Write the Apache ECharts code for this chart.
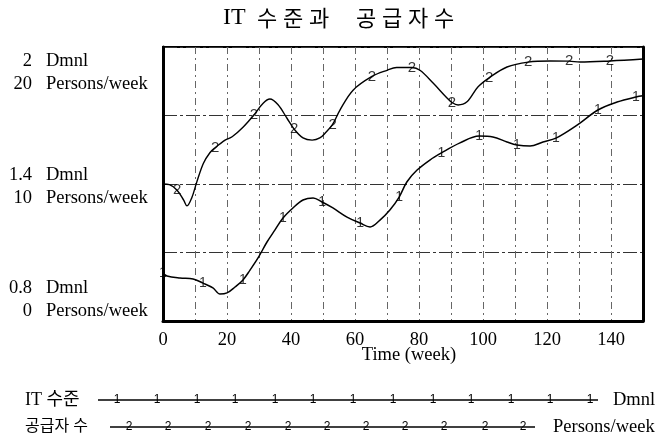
<!DOCTYPE html>
<html>
<head>
<meta charset="utf-8">
<script src="https://cdn.jsdelivr.net/npm/echarts@6/dist/echarts.min.js"></script>
<style>
  html, body { margin: 0; padding: 0; background: #fff; }
  #chart { width: 658px; height: 435px; }
</style>
</head>
<body>
<div id="chart"></div>
<script>
// IT 수준 (Dmnl) over time
const itWeeks = [0, 1.25, 5.3, 9.4, 12.5, 15.6, 17.8, 20, 22.5, 25, 27.2, 29.7, 32.5, 35, 37.5, 40.6, 43.75, 46.9, 49.7, 53.1, 57.5, 61.6, 64.7, 67.8, 70.9, 73.8, 76.25, 79.4, 83.4, 87, 92.8, 98.8, 103.1, 107.5, 110.6, 114.7, 118.75, 122.8, 129.4, 135.9, 141.9, 147.8, 150];
const itLevel = [1.010, 0.997, 0.988, 0.984, 0.966, 0.945, 0.918, 0.923, 0.949, 0.980, 1.023, 1.076, 1.146, 1.199, 1.251, 1.295, 1.330, 1.339, 1.321, 1.295, 1.255, 1.229, 1.212, 1.242, 1.286, 1.343, 1.41, 1.461, 1.505, 1.536, 1.580, 1.610, 1.606, 1.584, 1.571, 1.566, 1.584, 1.601, 1.658, 1.724, 1.759, 1.781, 1.786];
const itMarkerWeeks = [0, 12.5, 25, 37.5, 49.7, 61.6, 73.8, 87, 98.8, 110.6, 122.8, 135.9, 147.8];

// 공급자 수 (Persons/week) over time
const supWeeks = [0, 2, 4.4, 6.5, 7.5, 9, 10.5, 12.6, 14.7, 16.3, 19.4, 21.6, 25, 28.4, 31.3, 33.4, 35.9, 38.75, 41, 43.75, 46.6, 49, 51, 53, 55.3, 59.4, 65.3, 70, 73, 77.8, 80.3, 84.4, 88.75, 90.3, 92.2, 95, 98.4, 101.9, 107.5, 114.1, 121, 126.9, 130.3, 139.7, 150];
const supCount = [10.0, 9.95, 9.55, 8.8, 8.4, 9.0, 10.1, 11.5, 12.3, 12.65, 13.2, 13.45, 14.15, 15.04, 15.9, 16.2, 15.8, 14.8, 14.0, 13.36, 13.2, 13.36, 13.8, 14.35, 15.4, 16.85, 17.85, 18.3, 18.5, 18.5, 18.3, 17.37, 16.28, 15.95, 15.77, 16.0, 17.08, 17.75, 18.54, 18.9, 18.98, 18.97, 18.9, 18.98, 19.12];
const supMarkerWeeks = [4.4, 16.3, 28.4, 41, 53, 65.3, 77.8, 90.3, 101.9, 114.1, 126.9, 139.7];

// Tick labels
const xTickLabels = ['0', '20', '40', '60', '80', '100', '120', '140'];
const dmnlTickLabels = ['0.8', '1.4', '2'];
const personsTickLabels = ['0', '10', '20'];

const SERIF = '"Liberation Serif", "Times New Roman", "Noto Sans CJK KR", serif';
const SANS = '"Liberation Sans", Arial, sans-serif';
const KR = '"Noto Sans CJK KR", sans-serif';

const pairs = (xs, ys) => xs.map((x, i) => [x, ys[i]]);
const pick = (xs, ys, marks) => marks.map(m => [m, ys[xs.indexOf(m)]]);

const itData = pairs(itWeeks, itLevel);
const supData = pairs(supWeeks, supCount);
const itMarks = pick(itWeeks, itLevel, itMarkerWeeks);
const supMarks = pick(supWeeks, supCount, supMarkerWeeks);

// bottom legend: a key line with repeated series digits
const legend1X = [117, 157, 197, 235, 275, 313, 353, 393, 433, 471, 511, 550, 590];
const legend2X = [129, 168, 208, 248, 288, 327, 366, 405, 444, 485, 523];

function legendRow(y, label, labelFont, x1, x2, markXs, digit, unit, unitX) {
  const els = [
    { type: 'text', style: { text: label, x: 25, y: y, font: labelFont, fill: '#000', verticalAlign: 'middle' } },
    { type: 'line', shape: { x1: x1, y1: y, x2: x2, y2: y }, style: { stroke: '#000', lineWidth: 1.3 } },
    { type: 'text', style: { text: unit, x: unitX, y: y, font: '18.5px ' + SERIF, fill: '#000', verticalAlign: 'middle' } }
  ];
  markXs.forEach(x => els.push({
    type: 'text', z: 10,
    style: { text: digit, x: x, y: y, font: '12px ' + SANS, fill: '#000', align: 'center', verticalAlign: 'middle' }
  }));
  return els;
}

// two-line y labels: value column (right aligned) and unit column (left aligned);
// spacer lines keep the end labels inside the plot's height
const labelRich = {
  t: { fontSize: 18.5, fontFamily: SERIF, lineHeight: 23, color: '#000' },
  et: { fontSize: 10, lineHeight: 26 },
  em: { fontSize: 2, lineHeight: 6 },
  eb: { fontSize: 10, lineHeight: 21.5 }
};
function stackLabel(i, top, bottom) {
  let s = '{t|' + top + '}\n{t|' + bottom + '}';
  if (i === 2) s = '{et| }\n{et| }\n' + s;
  if (i === 1) s = '{em| }\n' + s;
  if (i === 0) s = s + '\n{eb| }\n{eb| }';
  return s;
}

const chart = echarts.init(document.getElementById('chart'), null, { renderer: 'canvas' });

chart.setOption({
  animation: false,
  backgroundColor: '#fff',
  title: {
    text: '{a|IT }{k|수}{k|준}{k|과}{g| }{k|공}{k|급}{k|자}{k|수}',
    left: 223, top: 4, padding: 0,
    textStyle: {
      fontWeight: 'normal',
      rich: {
        a: { fontFamily: SERIF, fontSize: 24, fontWeight: 'normal', width: 31, lineHeight: 28, color: '#000' },
        k: { fontFamily: KR, fontSize: 22, fontWeight: 'normal', width: 26, align: 'center', lineHeight: 28, color: '#000' },
        g: { fontSize: 10, width: 21, lineHeight: 28 }
      }
    }
  },
  grid: { left: 163, right: 15, top: 47, bottom: 114, show: true, borderColor: '#000', borderWidth: 2 },
  xAxis: {
    type: 'value', min: 0, max: 150, interval: 10,
    axisLine: { lineStyle: { color: '#000', width: 3 } },
    axisTick: { show: false },
    axisLabel: {
      margin: 10, color: '#000', fontFamily: SERIF, fontSize: 18.5,
      formatter: v => (v % 20 === 0 && xTickLabels[v / 20] !== undefined) ? xTickLabels[v / 20] : ''
    },
    splitLine: { show: true, lineStyle: { color: '#666', width: 1, type: [7, 4, 2, 4] } },
    name: 'Time (week)', nameLocation: 'middle', nameGap: 25, nameMoveOverlap: false,
    nameTextStyle: { color: '#000', fontFamily: SERIF, fontSize: 18.5, padding: [0, 0, 0, 12] }
  },
  yAxis: [
    {
      // Persons/week scale, carries the value column of the labels
      type: 'value', min: 0, max: 20, interval: 5,
      axisLine: { show: true, lineStyle: { color: '#000', width: 3 } },
      axisTick: { show: false },
      splitLine: { show: true, lineStyle: { color: '#333', width: 1, type: [14, 3, 3, 3] } },
      axisLabel: {
        margin: 131, align: 'right',
        formatter: v => v % 10 === 0 ? stackLabel(v / 10, dmnlTickLabels[v / 10], personsTickLabels[v / 10]) : '',
        rich: labelRich
      }
    },
    {
      // Dmnl scale for IT 수준
      type: 'value', min: 0.8, max: 2, position: 'right',
      axisLine: { show: true, lineStyle: { color: '#000', width: 3 } },
      axisTick: { show: false }, axisLabel: { show: false }, splitLine: { show: false }
    },
    {
      // unit column of the labels
      type: 'value', min: 0, max: 20, interval: 5, position: 'left',
      axisLine: { show: false }, axisTick: { show: false }, splitLine: { show: false },
      axisLabel: {
        margin: 117, align: 'left',
        formatter: v => v % 10 === 0 ? stackLabel(v / 10, 'Dmnl', 'Persons/week') : '',
        rich: labelRich
      }
    }
  ],
  series: [
    {
      name: 'IT 수준', type: 'line', yAxisIndex: 1, data: itData,
      smooth: 0.35, showSymbol: false, lineStyle: { color: '#000', width: 1.5 }, z: 3
    },
    {
      name: '공급자 수', type: 'line', yAxisIndex: 0, data: supData,
      smooth: 0.35, showSymbol: false, lineStyle: { color: '#000', width: 1.4 }, z: 3
    },
    {
      type: 'scatter', yAxisIndex: 1, data: itMarks, symbolSize: 1,
      itemStyle: { color: 'transparent' }, z: 5,
      label: { show: true, position: 'inside', formatter: '1', color: '#000', fontFamily: SANS, fontSize: 14 }
    },
    {
      type: 'scatter', yAxisIndex: 0, data: supMarks, symbolSize: 1,
      itemStyle: { color: 'transparent' }, z: 5,
      label: { show: true, position: 'inside', formatter: '2', color: '#000', fontFamily: SANS, fontSize: 15 }
    }
  ],
  graphic: [].concat(
    legendRow(400, 'IT 수준', '18px ' + SERIF, 98, 598, legend1X, '1', 'Dmnl', 613),
    legendRow(427, '공급자 수', '16px ' + SERIF, 110, 535, legend2X, '2', 'Persons/week', 553)
  )
});
</script>
</body>
</html>
